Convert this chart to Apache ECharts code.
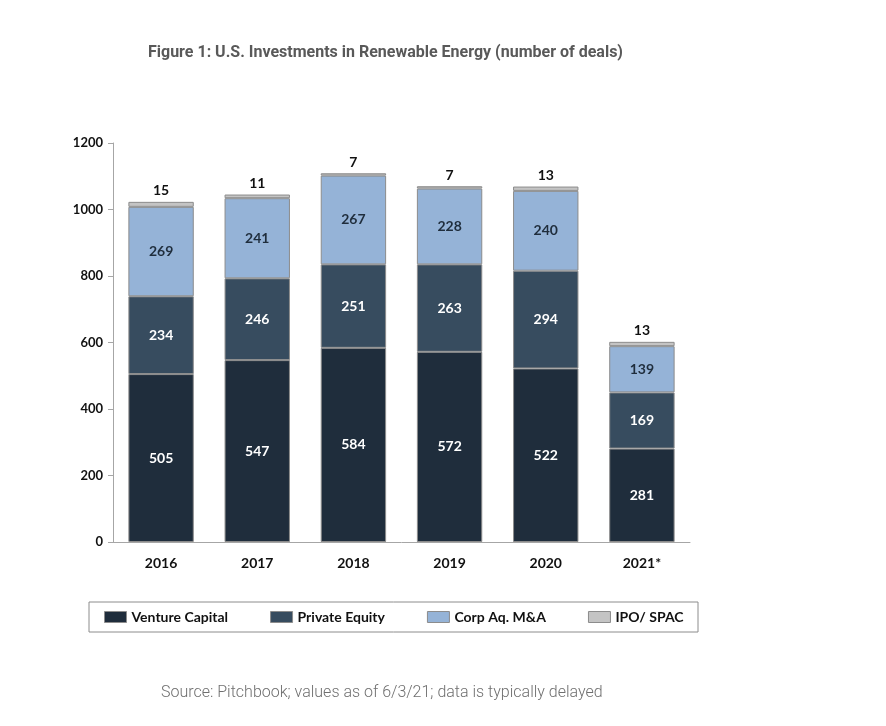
<!DOCTYPE html>
<html lang="en">
<head>
    <meta charset="UTF-8">
    <title>U.S. Investments in Renewable Energy</title>
    <script src="https://cdn.jsdelivr.net/npm/echarts@6/dist/echarts.min.js"></script>
    <style>
        * { margin: 0; padding: 0; box-sizing: border-box; }
        body { background: #ffffff; }
        #chart { width: 886px; height: 726px; }
    </style>
</head>
<body>
    <div id="chart"></div>
    <script>
        // 数据
        const years = ['2016', '2017', '2018', '2019', '2020', '2021*'];
        const ventureCapital = [505, 547, 584, 572, 522, 281];
        const privateEquity = [234, 246, 251, 263, 294, 169];
        const corpAq = [269, 241, 267, 228, 240, 139];
        const ipoSpac = [15, 11, 7, 7, 13, 13];
        const yTicks = { min: 0, max: 1200, interval: 200 };

        const labelFont = 'Lato, "Open Sans", sans-serif';

        function seg(name, data, color, labelColor, pos) {
            return {
                name: name,
                type: 'bar',
                stack: 'deals',
                data: data,
                barCategoryGap: '32%',
                itemStyle: { color: color, borderColor: '#8c8c8c', borderWidth: 1 },
                label: {
                    show: true,
                    position: pos || 'inside',
                    color: labelColor,
                    fontFamily: labelFont,
                    fontWeight: 'bold',
                    fontSize: 14,
                    distance: 4
                }
            };
        }

        const chart = echarts.init(document.getElementById('chart'));
        chart.setOption({
            animation: false,
            title: [{
                text: 'Figure 1: U.S. Investments in Renewable Energy (number of deals)',
                left: 143, top: 40,
                textStyle: { fontFamily: 'Roboto', fontWeight: 'bold', fontSize: 16, color: '#595959' }
            }, {
                text: 'Source: Pitchbook; values as of 6/3/21; data is typically delayed',
                left: 156, top: 680,
                textStyle: { fontFamily: 'Roboto', fontWeight: 300, fontSize: 16, color: '#6f6f6f' }
            }],
            grid: { left: 113, right: 196, top: 143, bottom: 184 },
            legend: {
                left: 99, top: 605,
                itemWidth: 22, itemHeight: 11, itemGap: 42,
                icon: 'rect',
                textStyle: { fontFamily: labelFont, fontWeight: 'bold', fontSize: 14, color: '#111' },
                itemStyle: { borderColor: '#8c8c8c', borderWidth: 1 }
            },
            graphic: [{
                type: 'rect',
                shape: { x: 89, y: 602, width: 609, height: 30 },
                style: { fill: 'none', stroke: '#8c8c8c', lineWidth: 1 },
                z: -1
            }],
            xAxis: {
                type: 'category',
                data: years,
                axisLine: { lineStyle: { color: '#a6a6a6' } },
                axisTick: { show: false },
                axisLabel: { margin: 14, fontFamily: labelFont, fontWeight: 'bold', fontSize: 14, color: '#111' }
            },
            yAxis: {
                type: 'value',
                min: yTicks.min, max: yTicks.max, interval: yTicks.interval,
                splitLine: { show: false },
                axisLine: { show: true, lineStyle: { color: '#a6a6a6' } },
                axisTick: { show: true, length: 5, lineStyle: { color: '#a6a6a6' } },
                axisLabel: {
                    margin: 10, fontFamily: labelFont, fontWeight: 'bold', fontSize: 13, color: '#111',
                    formatter: v => String(v)
                }
            },
            series: [
                seg('Venture Capital', ventureCapital, '#1f2d3c', '#ffffff'),
                seg('Private Equity', privateEquity, '#374c5f', '#ffffff'),
                seg('Corp Aq. M&A', corpAq, '#95b3d7', '#1f2d3c'),
                seg('IPO/ SPAC', ipoSpac, '#c4c4c4', '#111111', 'top')
            ]
        });
    </script>
</body>
</html>
